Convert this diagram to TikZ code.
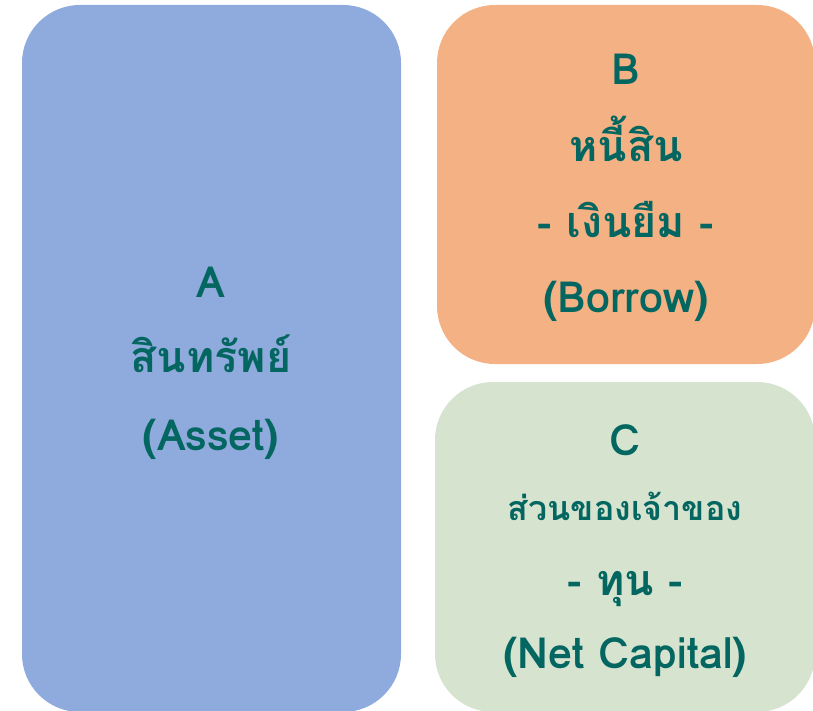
\documentclass[tikz,border=0pt]{standalone}
\usepackage{fontspec}
\newfontfamily\thaifont[Script=Thai]{Loma}
\definecolor{boxA}{RGB}{143,170,220}
\definecolor{boxB}{RGB}{244,177,131}
\definecolor{boxC}{RGB}{213,227,207}
\definecolor{txt}{RGB}{3,102,96}
\tikzset{
  panel/.style={rounded corners=58pt},
  lbl/.style={anchor=base, inner sep=0pt, text=txt, font=\thaifont\bfseries\fontsize{43}{50}\selectfont},
  lblsmall/.style={lbl, font=\thaifont\bfseries\fontsize{34}{40}\selectfont}
}
\begin{document}
\begin{tikzpicture}[x=1pt,y=-1pt]
\useasboundingbox (0,0) rectangle (813,711);
\fill[boxA, panel] (22,5) rectangle (401,712);
\fill[boxB, panel] (437,5) rectangle (815,364);
\fill[boxC, panel] (435,382) rectangle (815,712);
% A
\node[lbl] (a1) at (211,297) {A};
\node[lbl] (a2) at (211,372) {สินทรัพย์};
\node[lbl] (a3) at (211,450) {(Asset)};
% B
\node[lbl] (b1) at (626,85) {B};
\node[lbl] (b2) at (626,162) {หนี้สิน};
\node[lbl] (b3) at (626,238) {- เงินยืม -};
\node[lbl] (b4) at (626,312) {(Borrow)};
% C
\node[lbl] (c1) at (625,455) {C};
\node[lblsmall] (c2) at (625,520) {ส่วนของเจ้าของ};
\node[lbl] (c3) at (625,595) {- ทุน -};
\node[lbl] (c4) at (625,668) {(Net Capital)};
\end{tikzpicture}
\end{document}
